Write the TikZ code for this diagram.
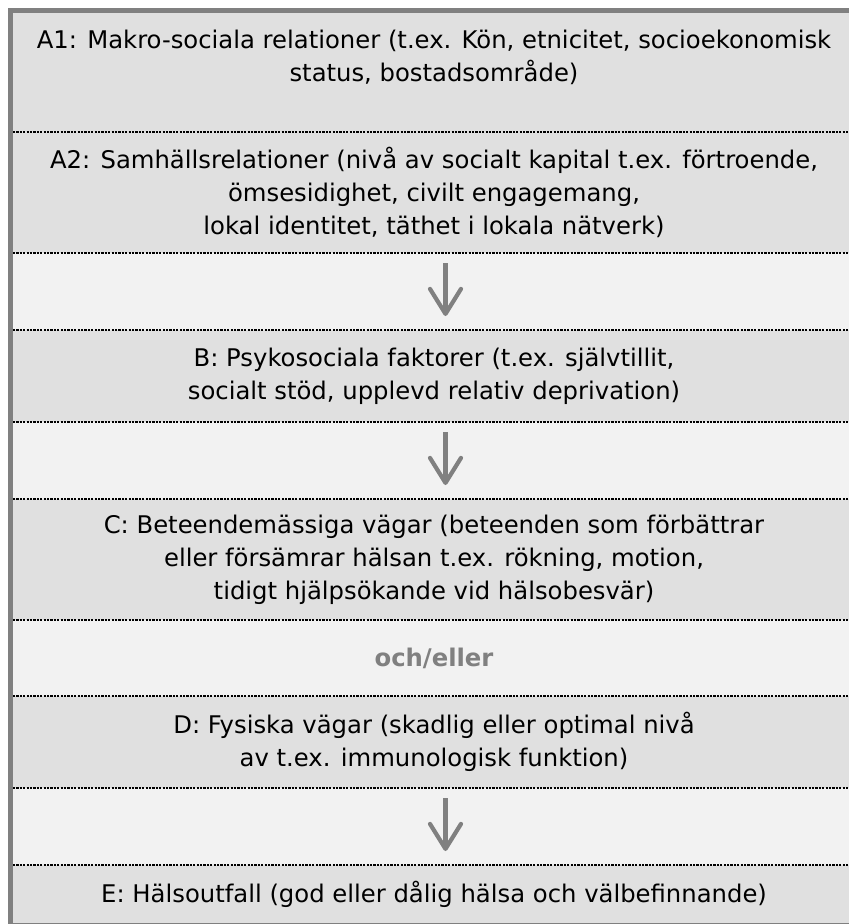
\documentclass[tikz,border=0pt]{standalone}
\usepackage{fontspec}
\setmainfont{DejaVu Sans}
\usepackage{tikz}
\usetikzlibrary{arrows.meta,positioning}
\usepackage{xcolor}
\definecolor{radgra}{HTML}{E0E0E0}
\definecolor{ljusgra}{HTML}{F2F2F2}
\definecolor{ramgra}{HTML}{808080}

\begin{document}
\begin{tikzpicture}[x=1pt,y=-1pt,node distance=0pt,
                    font=\fontsize{24.3}{33}\selectfont]
  \tikzstyle{rad}=[fill=radgra,minimum width=842,align=center,
                   inner sep=0,outer sep=0]
  \tikzstyle{mellan}=[rad,fill=ljusgra,minimum height=77]
  \tikzstyle{prickad}=[line width=1.7pt,dash pattern=on 2.2pt off 1.2pt]
  \tikzstyle{pil}=[ramgra,line width=4.2pt,
                   -{Straight Barb[length=25pt,width=31pt,line cap=round,line join=round]}]

  \useasboundingbox (0,0) rectangle (849,924);
  \clip (0,0) rectangle (849,924);
  \fill[ramgra] (8,8) rectangle (870,940);

  \node[rad,minimum height=119,anchor=north] (a1) at (434,13)
    {A1: Makro-sociala relationer (t.ex. Kön, etnicitet, socioekonomisk\\
     status, bostadsområde)\\ \mbox{}};
  \node[rad,minimum height=121] (a2) [below=of a1]
    {A2: Samhällsrelationer (nivå av socialt kapital t.ex. förtroende,\\
     ömsesidighet, civilt engagemang,\\
     lokal identitet, täthet i lokala nätverk)};
  \node[mellan] (s1) [below=of a2] {};
  \node[rad,minimum height=92] (b) [below=of s1]
    {B: Psykosociala faktorer (t.ex. självtillit,\\
     socialt stöd, upplevd relativ deprivation)};
  \node[mellan] (s2) [below=of b] {};
  \node[rad,minimum height=121] (c) [below=of s2]
    {C: Beteendemässiga vägar (beteenden som förbättrar\\
     eller försämrar hälsan t.ex. rökning, motion,\\
     tidigt hjälpsökande vid hälsobesvär)};
  \node[mellan,minimum height=76,text=ramgra,font=\fontsize{24.3}{33}\selectfont\bfseries]
    (s3) [below=of c] {och/eller};
  \node[rad,minimum height=92] (d) [below=of s3]
    {D: Fysiska vägar (skadlig eller optimal nivå\\
     av t.ex. immunologisk funktion)};
  \node[mellan] (s4) [below=of d] {};
  \node[rad,minimum height=58] (e) [below=of s4]
    {E: Hälsoutfall (god eller dålig hälsa och välbefinnande)};

  \foreach \n in {a1,a2,s1,b,s2,c,s3,d,s4}
    \draw[prickad] (\n.south west) -- (\n.south east);

  \foreach \n in {s1,s2,s4}
    \draw[pil] ([xshift=11.5pt,yshift=-10pt]\n.north) -- ([xshift=11.5pt,yshift=14pt]\n.south);
\end{tikzpicture}
\end{document}
